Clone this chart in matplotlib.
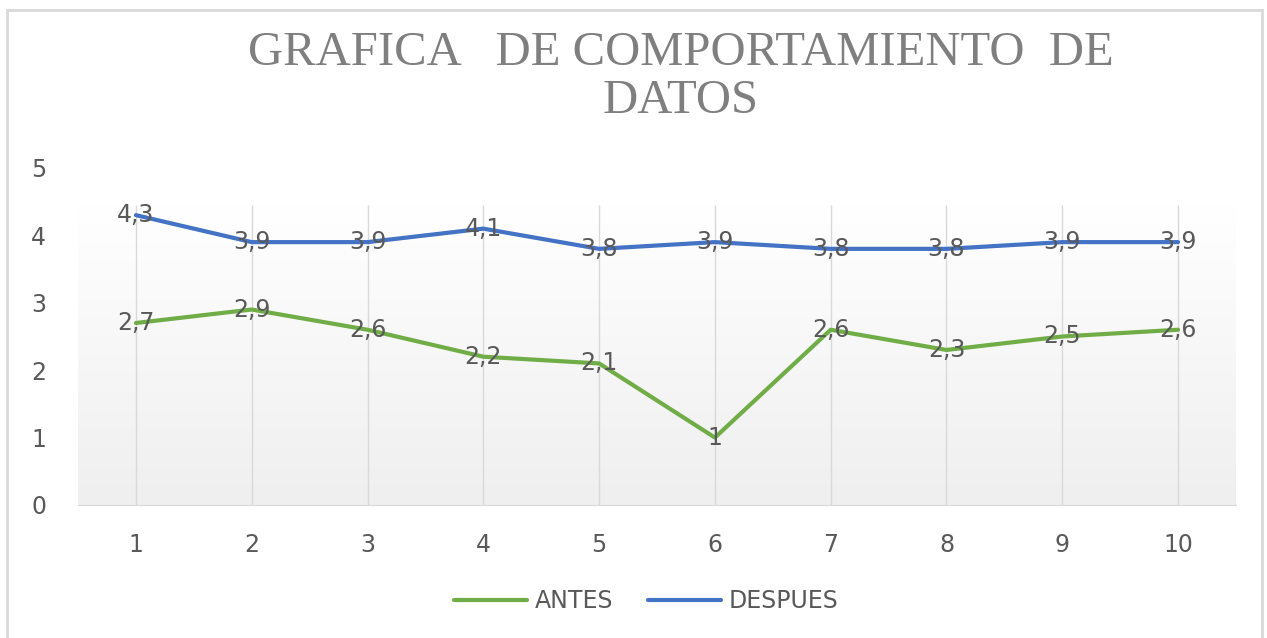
import numpy as np
import matplotlib.pyplot as plt
from matplotlib.patches import Rectangle
from matplotlib.colors import LinearSegmentedColormap

# Datos
x = [1, 2, 3, 4, 5, 6, 7, 8, 9, 10]
antes = [2.7, 2.9, 2.6, 2.2, 2.1, 1.0, 2.6, 2.3, 2.5, 2.6]
despues = [4.3, 3.9, 3.9, 4.1, 3.8, 3.9, 3.8, 3.8, 3.9, 3.9]
y_ticks = [0, 1, 2, 3, 4, 5]

verde = '#70AD47'
azul = '#4472C4'
gris = '#595959'

fig = plt.figure(figsize=(12.67, 6.38), dpi=100)
ax = fig.add_axes([0.0616, 0.2085, 0.9139, 0.5282])

# Fondo degradado del area de trazado (blanco arriba, gris claro abajo)
cmap = LinearSegmentedColormap.from_list('g', ['#efefef', '#ffffff'])
grad = np.linspace(0.0, 1.0, 256).reshape(-1, 1)
ax.imshow(grad, extent=[0.5, 10.5, 0, 4.45], aspect='auto', cmap=cmap,
          vmin=0, vmax=1, origin='lower', zorder=0)

ax.vlines(x, 0, 4.45, color='#d9d9d9', lw=1, zorder=1)

ax.plot(x, antes, color=verde, lw=3, label='ANTES', zorder=3, solid_capstyle='round')
ax.plot(x, despues, color=azul, lw=3, label='DESPUES', zorder=3, solid_capstyle='round')

# Etiquetas de datos
for serie in (antes, despues):
    for xi, v in zip(x, serie):
        ax.text(xi, v, f'{v:g}'.replace('.', ','), ha='center', va='center',
                fontsize=17, color=gris, zorder=4)

ax.set_xlim(0.5, 10.5)
ax.set_ylim(0, 5)
ax.set_xticks(x)
ax.set_yticks(y_ticks)
ax.tick_params(length=0, labelsize=17, labelcolor=gris)
ax.tick_params(axis='y', pad=23)
ax.tick_params(axis='x', pad=20)
for s in ['top', 'right', 'left']:
    ax.spines[s].set_visible(False)
ax.spines['bottom'].set_color('#d9d9d9')

fig.text(0.537, 0.88, 'GRAFICA   DE COMPORTAMIENTO  DE\nDATOS', ha='center', va='center',
         family='Liberation Serif', fontsize=35, color='#7f7f7f', linespacing=1.12)

leg = fig.legend(loc='center', bbox_to_anchor=(0.51, 0.058), ncol=2, frameon=False,
                 fontsize=17, handlelength=3.1, columnspacing=1.5, handletextpad=0.3)
for t in leg.get_texts():
    t.set_color(gris)

# Borde del grafico
fig.patches.append(Rectangle((7 / 1267, -0.05), (1262 - 7) / 1267, 1.05 - 10 / 638,
                             transform=fig.transFigure, fill=False, edgecolor='#d9d9d9', lw=2))

fig.savefig('out.png', dpi=100)
